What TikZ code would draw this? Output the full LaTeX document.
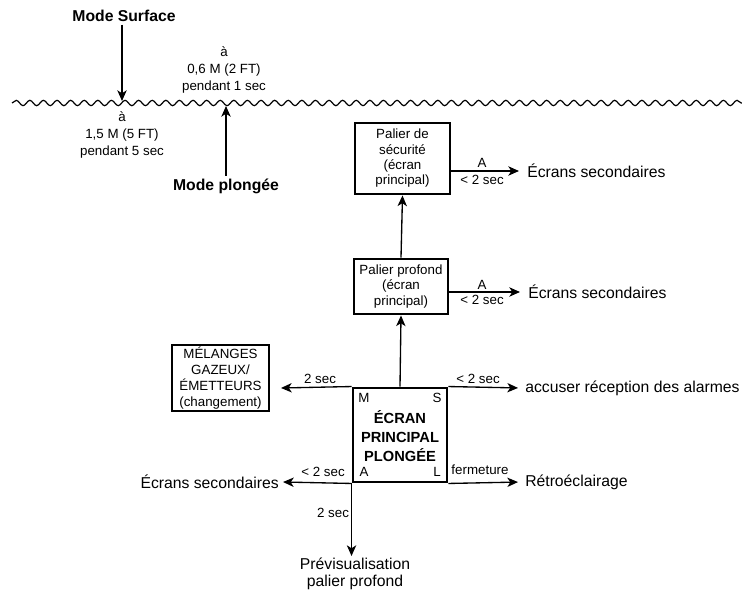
\documentclass[tikz,border=0pt]{standalone}
\usepackage{fontspec}
\setmainfont{Liberation Sans}
\usetikzlibrary{arrows.meta,decorations.pathmorphing}
\begin{document}
\begin{tikzpicture}[x=0.75pt,y=-0.75pt,
  arr/.style={-{Stealth[length=8pt,width=7pt,inset=2.2pt]}, line width=1pt},
  box/.style={draw, line width=2.2pt, align=center, inner sep=1pt, font=\fontsize{10}{11.5}\selectfont},
  big/.style={inner sep=3pt, font=\fontsize{11.8}{12.75}\selectfont, align=center},
  bigb/.style={inner sep=2pt, font=\fontsize{11.8}{12.75}\selectfont\bfseries},
  small/.style={inner sep=1pt, font=\fontsize{10}{13}\selectfont, align=center},
  corner/.style={inner sep=0pt, font=\fontsize{10}{12}\selectfont}
]
\useasboundingbox (0,0) rectangle (742,595);

% wave surface
\draw[line width=0.9pt, decorate, decoration={snake, segment length=10.2pt, amplitude=2pt}] (12,103) -- (742,103);

% modes
\node[bigb] (msurf) at (124,16) {Mode Surface};
\coordinate (wsurf) at (122,101);
\draw[arr] (msurf.south -| wsurf) -- (wsurf);
\node[small] (lsurf) at (122,135) {à\\1,5 M (5 FT)\\pendant 5 sec};

\node[bigb] (mplong) at (226,186) {Mode plongée};
\coordinate (wplong) at (226,106);
\draw[arr] (mplong.north) -- (wplong);
\node[small] (lplong) at (224,70) {à\\0,6 M (2 FT)\\pendant 1 sec};

% boxes
\node[box, minimum width=71.25pt, minimum height=53.25pt] (sec) at (402.5,158.5) {Palier de\\sécurité\\(écran\\principal)};
\node[box, minimum width=70.5pt, minimum height=41.25pt] (prof) at (401,286.5) {Palier profond\\(écran\\principal)};
\node[box, minimum width=70.5pt, minimum height=70.5pt] (main) at (400,435) {};
\node[box, minimum width=72.75pt, minimum height=49.5pt, font=\fontsize{10}{12}\selectfont] (mel) at (220.5,378) {MÉLANGES\\GAZEUX/\\ÉMETTEURS\\(changement)};

\node[inner sep=0pt, align=center, font=\fontsize{11}{14}\selectfont\bfseries] (mtxt) at (400,436) {ÉCRAN\\PRINCIPAL\\PLONGÉE};
\node[corner] (cm) at (364,398) {M};
\node[corner] (cs) at (437,398) {S};
\node[corner] (ca) at (364,472) {A};
\node[corner] (cl) at (437,472) {L};

% vertical arrows
\draw[arr] (main.north) -- (prof.south);
\draw[arr] (prof.north) -- (sec.south);

% secondary screens from paliers
\node[big, anchor=west] (es1) at (523,171) {Écrans secondaires};
\draw[arr, shorten >=3pt] (sec.east |- es1.west) -- (es1.west);
\node[small] (a1) at (482,163) {A};
\node[small] (t1) at (482,180) {< 2 sec};

\node[big, anchor=west] (es2) at (524,292) {Écrans secondaires};
\draw[arr, shorten >=3pt] (prof.east |- es2.west) -- (es2.west);
\node[small] (a2) at (482,285) {A};
\node[small] (t2) at (482,300) {< 2 sec};

% arrows from main screen
\coordinate (melend) at (281,388);
\draw[arr] (main.north west) -- (melend);
\node[small] (t3) at (320,379) {2 sec};

\node[big, anchor=west] (acc) at (521,388) {accuser réception des alarmes};
\draw[arr, shorten >=2.25pt] (main.north east) -- (acc.west);
\node[small] (t4) at (478,379) {< 2 sec};

\node[big, anchor=east] (es3) at (283,482) {Écrans secondaires};
\draw[arr] (main.south west) -- (es3.east);
\node[small] (t5) at (323,472) {< 2 sec};

\node[big, anchor=west] (ret) at (521,482) {Rétroéclairage};
\draw[arr, shorten >=2.25pt] (main.south east) -- (ret.west);
\node[small] (t6) at (480,470) {fermeture};

\node[big, anchor=north, inner sep=1pt] (prev) at (355,556) {Prévisualisation\\palier profond};
\draw[arr] (main.south west) -- (main.south west |- prev.north);
\node[small] (t7) at (333,513) {2 sec};
\end{tikzpicture}
\end{document}
